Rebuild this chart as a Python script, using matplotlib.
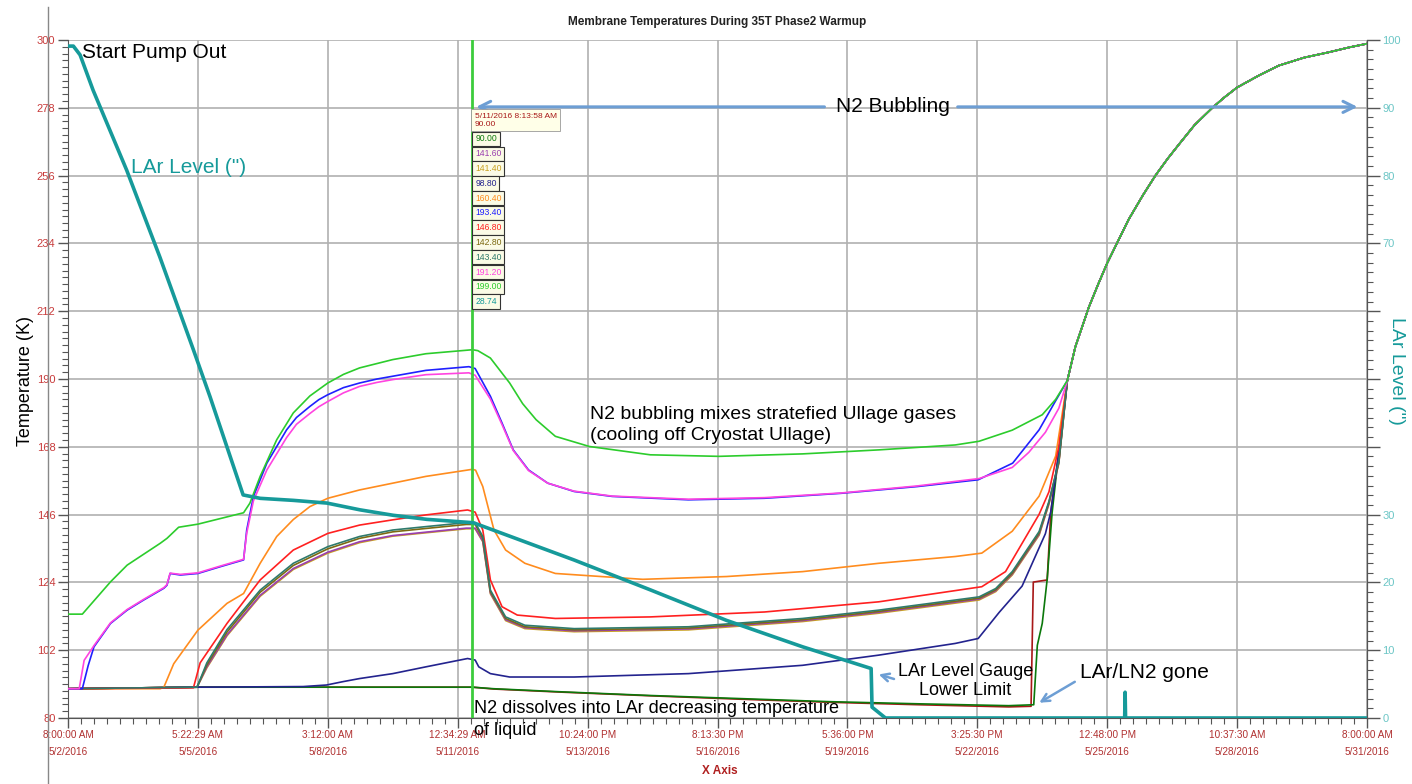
import matplotlib
matplotlib.use('Agg')
import matplotlib.pyplot as plt
import numpy as np
from matplotlib import font_manager
from matplotlib.lines import Line2D
from matplotlib.ticker import AutoMinorLocator

# ---- data (x in days since 5/2/2016 8:00 AM, temperatures in K) ----
x_tick_labels = ['8:00:00 AM\n5/2/2016', '5:22:29 AM\n5/5/2016', '3:12:00 AM\n5/8/2016',
                 '12:34:29 AM\n5/11/2016', '10:24:00 PM\n5/13/2016', '8:13:30 PM\n5/16/2016',
                 '5:36:00 PM\n5/19/2016', '3:25:30 PM\n5/22/2016', '12:48:00 PM\n5/25/2016',
                 '10:37:30 AM\n5/28/2016', '8:00:00 AM\n5/31/2016']

# common warm-up tail shared by all membrane sensors once the liquid is gone
tail_days = [22.31, 22.49, 22.79, 23.0, 23.2, 23.45, 23.68, 24.0, 24.28, 24.55, 24.8, 25.15,
             25.54, 25.8, 26.1, 26.6, 27.03, 27.6, 28.14, 28.6, 29.0]
tail_temp = [189.5, 200.5, 213.3, 220.8, 227.6, 235.0, 241.8, 249.7, 256.1, 261.5, 266.1, 272.4,
             277.9, 281.2, 284.6, 288.6, 291.7, 294.3, 296.0, 297.6, 298.8]

lime_days = [0, 0.32, 0.95, 1.32, 2.06, 2.21, 2.47, 2.9, 3.92, 4.06, 4.29, 4.66, 5.03, 5.4, 5.8,
             6.15, 6.51, 7.25, 7.99, 9.03, 9.15, 9.43, 9.86, 10.15, 10.45, 10.88, 11.64, 13.0,
             14.53, 16.4, 18.1, 19.81, 20.34, 21.08, 21.75, 22.05]
lime_temp = [113.7, 113.7, 124.2, 129.6, 136.7, 138.3, 141.9, 142.9, 146.6, 149.7, 158.4, 170.3,
             179.0, 184.5, 188.7, 191.5, 193.6, 196.3, 198.2, 199.5, 199.2, 196.8, 188.7, 182.0,
             176.8, 171.4, 168.1, 165.4, 164.9, 165.7, 167.0, 168.6, 169.8, 173.4, 178.4, 183.4]

blue_days = [0, 0.32, 0.45, 0.58, 0.95, 1.32, 1.69, 2.14, 2.21, 2.28, 2.51, 2.9, 3.4, 3.92, 3.99,
             4.14, 4.44, 4.88, 5.1, 5.4, 5.6, 5.8, 6.15, 6.51, 6.9, 7.25, 7.99, 8.95, 9.09, 9.43,
             9.69, 9.94, 10.28, 10.71, 11.3, 12.15, 13.85, 15.55, 17.25, 18.96, 20.32, 21.09,
             21.68, 22.02]
blue_temp = [89.5, 89.5, 97.0, 103.1, 110.7, 115.0, 118.3, 122.1, 123.1, 126.9, 126.4, 126.9,
             129.1, 131.3, 141.0, 151.9, 162.7, 173.5, 177.5, 181.1, 183.3, 184.9, 187.2, 188.7,
             190.0, 190.9, 192.8, 194.0, 193.4, 184.4, 175.7, 167.0, 160.5, 156.2, 153.5, 151.9,
             150.8, 151.3, 152.9, 155.1, 157.3, 162.7, 173.5, 182.2]

magenta_days = [0, 0.25, 0.36, 0.58, 0.95, 1.32, 1.69, 2.14, 2.21, 2.28, 2.51, 2.9, 3.4, 3.92,
                3.99, 4.14, 4.44, 4.88, 5.1, 5.4, 5.6, 5.8, 6.15, 6.51, 6.9, 7.25, 7.99, 8.95,
                9.09, 9.43, 9.69, 9.94, 10.28, 10.71, 11.3, 12.15, 13.85, 15.55, 17.25, 18.96,
                20.34, 21.08, 21.45, 21.82, 22.12]
magenta_temp = [89.5, 89.5, 98.7, 103.5, 110.9, 115.2, 118.5, 122.3, 123.3, 127.0, 126.6, 127.1,
                129.3, 131.5, 140.0, 150.5, 160.5, 171.0, 175.3, 178.8, 181.0, 182.7, 185.5,
                187.6, 188.9, 189.8, 191.4, 192.0, 191.2, 183.5, 175.2, 166.8, 160.3, 156.2,
                153.6, 152.0, 151.0, 151.5, 153.0, 155.3, 157.7, 161.3, 166.2, 172.7, 180.5]

orange_days = [0, 2.06, 2.14, 2.36, 2.9, 3.55, 3.92, 4.29, 4.66, 5.03, 5.4, 5.8, 6.51, 7.25, 7.99,
               9.03, 9.1, 9.26, 9.51, 9.77, 10.2, 10.88, 12.83, 14.7, 16.4, 18.1, 19.81, 20.4,
               21.08, 21.68, 22.05]
orange_temp = [89.5, 89.5, 90.0, 97.6, 108.5, 117.2, 120.4, 130.2, 138.9, 144.4, 148.6, 151.3,
               154.0, 156.2, 158.4, 160.7, 160.4, 155.1, 141.0, 134.5, 130.2, 126.9, 125.0, 125.9,
               127.5, 130.2, 132.4, 133.5, 140.6, 152.0, 165.0]

red_days = [0, 2.8, 2.95, 3.55, 4.29, 5.03, 5.8, 6.51, 7.25, 7.99, 8.92, 9.09, 9.26, 9.43, 9.69,
            10.03, 10.88, 13.0, 15.55, 18.1, 20.4, 20.93, 21.68, 21.9, 22.12]
red_temp = [89.5, 89.8, 97.9, 110.7, 124.8, 134.5, 139.9, 142.6, 144.3, 145.9, 147.5, 146.8,
            141.0, 124.8, 116.1, 113.4, 112.3, 112.8, 114.4, 117.7, 122.6, 127.5, 146.1, 153.4,
            168.0]

# four near-identical membrane sensors sharing one time base
bundle_days = [0, 2.88, 3.1, 3.55, 4.29, 5.03, 5.8, 6.51, 7.25, 7.99, 8.89, 9.09, 9.26, 9.43,
               9.77, 10.2, 11.3, 13.85, 16.4, 18.1, 20.34, 20.71, 21.08, 21.68, 21.9, 22.12]
dkteal_temp = [89.5, 90.0, 97.9, 108.7, 121.5, 130.2, 135.6, 138.9, 141.0, 142.1, 143.4, 143.4,
               138.9, 121.5, 112.8, 110.1, 109.0, 109.6, 112.3, 115.0, 119.3, 122.0, 127.5,
               140.5, 150.3, 163.4]
brown_temp = [89.5, 90.0, 97.2, 107.9, 120.8, 129.5, 134.9, 138.3, 140.4, 141.5, 142.8, 142.8,
              138.2, 121.0, 112.3, 109.6, 108.6, 109.2, 111.9, 114.6, 118.9, 121.6, 127.0,
              140.0, 150.0, 163.0]
purple_temp = [89.5, 90.0, 96.6, 107.0, 119.8, 128.5, 133.8, 137.2, 139.2, 140.3, 141.6, 141.6,
               137.4, 120.6, 111.9, 109.3, 108.3, 108.9, 111.6, 114.3, 118.6, 121.3, 126.7,
               139.6, 149.7, 162.8]
olive_temp = [89.5, 90.0, 96.3, 106.7, 119.5, 128.2, 133.5, 136.9, 139.0, 140.1, 141.4, 141.4,
              137.2, 120.3, 111.6, 109.0, 108.0, 108.6, 111.3, 114.0, 118.3, 121.0, 126.4,
              139.3, 149.4, 162.6]

navy_days = [0, 2.9, 5.25, 5.77, 6.14, 6.51, 7.25, 7.99, 8.92, 9.09, 9.17, 9.43, 9.86, 11.3,
             13.85, 16.4, 18.1, 19.81, 20.32, 20.79, 21.3, 21.82, 21.94, 22.12]
navy_temp = [89.5, 90.0, 90.2, 90.7, 91.8, 92.8, 94.4, 96.6, 99.3, 98.8, 96.6, 94.4, 93.3, 93.3,
             94.4, 97.1, 100.4, 104.2, 105.8, 114.3, 122.8, 139.8, 146.9, 166.2]

dkgreen_days = [0, 2.9, 9.03, 9.5, 11, 13, 15, 17, 19, 21, 21.56, 21.64, 21.75, 21.86, 21.97, 22.12]
dkgreen_temp = [89.5, 90.0, 90.0, 89.5, 88.5, 87.3, 86.3, 85.3, 84.6, 84.0, 84.3, 103.6, 110.7,
                125.0, 146.6, 166.2]

dkred_days = [0, 2.9, 9.03, 9.5, 11, 13, 15, 17, 19, 21, 21.5, 21.55, 21.86, 21.94, 22.12]
dkred_temp = [89.5, 90.0, 90.0, 89.4, 88.4, 87.2, 86.1, 85.1, 84.3, 83.6, 83.8, 124.1, 124.8,
              146.6, 166.2]

# LAr level (inches, right axis)
lar_days = [0, 0.12, 0.27, 0.56, 1.31, 2.05, 2.8, 3.17, 3.91, 4.29, 5.03, 5.78, 6.52, 7.26, 8.01,
            9.05, 11.3, 13.0, 14.7, 16.4, 17.93, 17.95, 18.25, 23.59, 23.6, 23.61, 29.0]
lar_level = [99.1, 99.1, 97.8, 92.6, 80.8, 68.0, 54.3, 47.4, 32.9, 32.4, 32.1, 31.7, 30.7, 29.9,
             29.3, 28.8, 23.3, 18.9, 14.4, 10.5, 7.3, 1.6, 0.0, 0.0, 3.8, 0.0, 0.0]

cursor_day = 9.03
cursor_header = '5/11/2016 8:13:58 AM\n90.00'
cursor_vals = ['90.00', '141.60', '141.40', '98.80', '160.40', '193.40', '146.80', '142.80',
               '143.40', '191.20', '199.00', '28.74']

C_DKRED, C_DKGREEN, C_PURPLE, C_OLIVE = '#a81818', '#0b780b', '#9a3fb0', '#c8a020'
C_NAVY, C_ORANGE, C_BLUE, C_RED = '#23238e', '#ff8c1e', '#2020ff', '#ff2020'
C_BROWN, C_DKTEAL, C_MAGENTA, C_LIME = '#7d6a12', '#2f7a6c', '#ff44e0', '#2ccc2c'
C_TEAL = '#169a9a'
cursor_colors = [C_DKGREEN, C_PURPLE, C_OLIVE, C_NAVY, C_ORANGE, C_BLUE, C_RED, C_BROWN,
                 C_DKTEAL, C_MAGENTA, C_LIME, C_TEAL]

names = {f.name for f in font_manager.fontManager.ttflist}
NARROW = 'Liberation Sans Narrow' if 'Liberation Sans Narrow' in names else 'Liberation Sans'
plt.rcParams['font.family'] = ['Liberation Sans', 'DejaVu Sans']

W, H = 1412, 784
fig = plt.figure(figsize=(W / 100, H / 100), dpi=100)
ax = fig.add_axes([68 / W, 1 - 718 / H, 1299 / W, 678 / H])

ARROW = '#6d9ed4'
GRID = '#b0b0b0'

series = [
    (dkred_days, dkred_temp, C_DKRED), (dkgreen_days, dkgreen_temp, C_DKGREEN),
    (bundle_days, olive_temp, C_OLIVE), (bundle_days, purple_temp, C_PURPLE),
    (bundle_days, brown_temp, C_BROWN), (navy_days, navy_temp, C_NAVY),
    (orange_days, orange_temp, C_ORANGE), (red_days, red_temp, C_RED),
    (bundle_days, dkteal_temp, C_DKTEAL), (blue_days, blue_temp, C_BLUE),
    (magenta_days, magenta_temp, C_MAGENTA), (lime_days, lime_temp, C_LIME),
]
for d, t, c in series:
    ax.plot(list(d) + tail_days, list(t) + tail_temp, color=c, lw=1.2, zorder=3)

ax.set_xlim(0, 29)
ax.set_ylim(80, 300)
ax.set_xticks(np.linspace(0, 29, 11))
ax.set_xticklabels(x_tick_labels, fontsize=7.2, color='#b03030', family=NARROW, linespacing=1.8)
ax.set_yticks(np.arange(80, 301, 22))
ax.set_yticklabels([str(v) for v in range(80, 301, 22)], fontsize=8, color='#c83a3a',
                   family=NARROW)
ax.xaxis.set_minor_locator(AutoMinorLocator(10))
ax.yaxis.set_minor_locator(AutoMinorLocator(10))
ax.tick_params(axis='both', which='major', length=7, width=1, color='#555555', pad=2)
ax.tick_params(axis='both', which='minor', length=4, width=0.8, color='#555555')
ax.grid(True, which='major', color=GRID, lw=1.2, zorder=0)
ax.set_axisbelow(True)
ax.spines['top'].set_visible(False)
for s in ['left', 'bottom', 'right']:
    ax.spines[s].set_color('#555555')

# cursor line
ax.axvline(cursor_day, color='#3ccc3c', lw=2, zorder=4)

# right axis: LAr level
ax2 = ax.twinx()
ax2.plot(lar_days, lar_level, color=C_TEAL, lw=2.6, zorder=5)
ax2.set_ylim(0, 100)
ax2.set_yticks(np.arange(0, 101, 10))
ax2.set_yticklabels(['' if v in (40, 50, 60) else str(v) for v in range(0, 101, 10)],
                    fontsize=8, color='#6cc6c6', family=NARROW)
ax2.yaxis.set_minor_locator(AutoMinorLocator(7))
ax2.tick_params(axis='y', which='major', length=9, width=1, color='#555555', pad=2)
ax2.tick_params(axis='y', which='minor', length=4, width=0.8, color='#555555')
for s in ['top', 'left', 'bottom']:
    ax2.spines[s].set_visible(False)
ax2.spines['right'].set_color('#555555')

# tooltip boxes at the cursor
ax2.text(cursor_day + 0.05, 89.3, cursor_header, fontsize=6, color=C_DKRED, family=NARROW,
         ha='left', va='top', linespacing=1.3, zorder=8,
         bbox=dict(boxstyle='square,pad=0.4', fc='#ffffe8', ec='#999999', lw=0.6))
for i, (val, col) in enumerate(zip(cursor_vals, cursor_colors)):
    ax2.text(cursor_day + 0.06, 85.4 - 2.18 * i, val, fontsize=6.2, color=col, family=NARROW,
             ha='left', va='center', zorder=8,
             bbox=dict(boxstyle='square,pad=0.32', fc='#fbfbe6', ec='#333333', lw=0.8))

# annotations
ax.text(0.31, 296.1, 'Start Pump Out', fontsize=15, ha='left', va='center', zorder=9)
ax.text(1.41, 258.5, 'LAr Level (")', fontsize=15, color=C_TEAL, ha='left', va='center')
ax.text(18.42, 278.3, 'N2 Bubbling', fontsize=15, ha='center', va='center')
ax.annotate('', xy=(9.05, 278.3), xytext=(16.95, 278.3),
            arrowprops=dict(arrowstyle='->', color=ARROW, lw=2.2, mutation_scale=20))
ax.annotate('', xy=(28.85, 278.3), xytext=(19.8, 278.3),
            arrowprops=dict(arrowstyle='->', color=ARROW, lw=2.2, mutation_scale=20))
ax.text(11.65, 175.1, 'N2 bubbling mixes stratefied Ullage gases\n(cooling off Cryostat Ullage)',
        fontsize=14, ha='left', va='center', linespacing=1.3)
ax.text(9.06, 83.2, 'N2 dissolves into LAr decreasing temperature', fontsize=13,
        ha='left', va='center', zorder=9)
ax.text(9.06, 76.1, 'of liquid', fontsize=13, ha='left', va='center', zorder=9)
ax.text(20.03, 92.0, 'LAr Level Gauge\nLower Limit', fontsize=13, ha='center', va='center',
        linespacing=1.15)
ax.annotate('', xy=(18.04, 94.4), xytext=(18.5, 92.4),
            arrowprops=dict(arrowstyle='->', color=ARROW, lw=1.8, mutation_scale=14))
ax.text(22.6, 94.9, 'LAr/LN2 gone', fontsize=15, ha='left', va='center')
ax.annotate('', xy=(21.63, 84.5), xytext=(22.53, 92.2),
            arrowprops=dict(arrowstyle='->', color=ARROW, lw=1.8, mutation_scale=14))

# titles and axis labels
fig.text(717 / W, 1 - 22 / H, 'Membrane Temperatures During 35T Phase2 Warmup', fontsize=8.5,
         fontweight='bold', ha='center', va='center', color='#222222')
fig.text(720 / W, 1 - 771 / H, 'X Axis', fontsize=8.5, fontweight='bold', color='#b02020',
         ha='center', va='center')
fig.text(25 / W, 1 - 381 / H, 'Temperature (K)', fontsize=13, rotation=90, ha='center',
         va='center')
fig.text(1396 / W, 1 - 371 / H, 'LAr Level (")', fontsize=14, rotation=270, color=C_TEAL,
         ha='center', va='center')
fig.add_artist(Line2D([48 / W, 48 / W], [0, 1 - 7 / H], color='#888888', lw=1))

fig.savefig('out.png', dpi=100)
